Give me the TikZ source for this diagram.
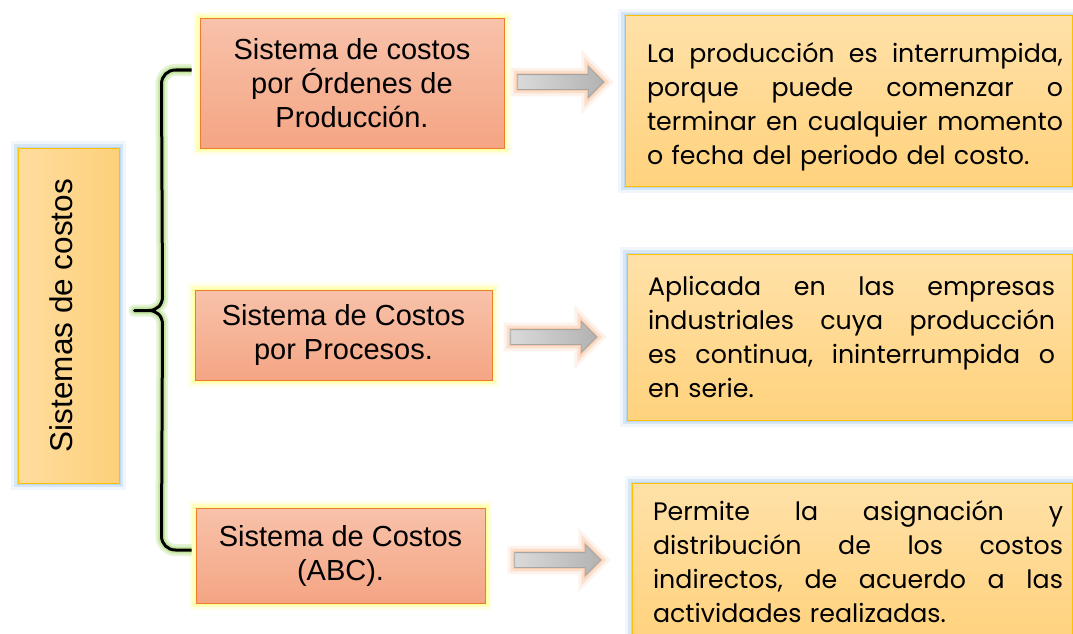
\documentclass[tikz,border=0pt]{standalone}
\usepackage{fontspec}
\setmainfont{Liberation Sans}
\newfontfamily\gothic{Poppins}
\usetikzlibrary{shapes.arrows,calc}
\definecolor{salmonT}{HTML}{F8C2AA}
\definecolor{salmonB}{HTML}{F4A584}
\definecolor{salmonLine}{HTML}{ED7D31}
\definecolor{goldT}{HTML}{FFE1A8}
\definecolor{goldB}{HTML}{FFD27D}
\definecolor{goldL}{HTML}{FFDDA0}
\definecolor{goldR}{HTML}{FDD07A}
\definecolor{goldLine}{HTML}{FFC000}
\definecolor{glowBlue}{HTML}{9DC3E6}
\definecolor{glowYellow}{HTML}{FFFF66}
\definecolor{glowGreen}{HTML}{92D050}
\definecolor{glowOrange}{HTML}{F4B183}
\definecolor{arrowL}{HTML}{DADADA}
\definecolor{arrowR}{HTML}{B2B2B2}
\definecolor{arrowLine}{HTML}{A5A5A5}
\newcommand\jline[3]{\hspace*{#1pt}\makebox[#2pt]{#3}}
\begin{document}
\begin{tikzpicture}[x=1pt,y=-1pt,
  glow/.style={
    preaction={draw=#1,draw opacity=0.15,line width=14pt,rounded corners=6pt},
    preaction={draw=#1,draw opacity=0.3,line width=8pt,rounded corners=4pt},
    preaction={draw=#1,draw opacity=0.45,line width=3pt}},
  sysbox/.style={draw=salmonLine,line width=1pt,top color=salmonT,bottom color=salmonB,
    glow=glowYellow,inner sep=0pt,align=center,font=\fontsize{29}{34}\selectfont},
  descbox/.style={draw=goldLine,line width=1pt,top color=goldT,bottom color=goldB,
    glow=glowBlue,inner sep=0pt,align=left,font=\gothic\fontsize{25.3}{34}\selectfont},
  rootbox/.style={draw=goldLine,line width=1pt,left color=goldL,right color=goldR,
    glow=glowBlue,inner sep=0pt,font=\fontsize{31.5}{34}\selectfont},
  blockarrow/.style={single arrow,draw=arrowLine,line width=0.8pt,left color=arrowL,right color=arrowR,
    glow=glowOrange,inner xsep=0pt,inner ysep=7pt,single arrow head extend=8pt,
    single arrow tip angle=90,minimum height=86pt},
  bracket/.style={draw=black,line width=3pt,line join=round,
    preaction={draw=glowGreen,draw opacity=0.25,line width=12pt,line join=round},
    preaction={draw=glowGreen,draw opacity=0.35,line width=7pt,line join=round}}
]
\useasboundingbox (0,0) rectangle (1073,634);
\fill[white] (0,0) rectangle (1073,634);

% root
\node[rootbox,minimum width=101pt,minimum height=335pt] (L) at (68.5,315.5)
  {\rotatebox{90}{Sistemas de costos}\hspace*{14pt}};

% systems
\node[sysbox,minimum width=304pt,minimum height=129pt] (b1) at (352,83.5)
  {Sistema de costos\\por Órdenes de\\Producción.};
\node[sysbox,minimum width=297pt,minimum height=90pt] (b2) at (343.5,335)
  {Sistema de Costos\\por Procesos.};
\node[sysbox,minimum width=289pt,minimum height=95pt] (b3) at (340.5,555.5)
  {Sistema de Costos\\(ABC).};

% arrows
\node[blockarrow] (a1) at (557,82) {};
\node[blockarrow] (a2) at (550,337) {};
\node[blockarrow] (a3) at (554,560) {};

% descriptions
\node[descbox,text width=447pt,minimum height=170pt] (r1) at (848.5,101)
  {\rule{0pt}{32pt}\jline{22}{416}{La\hfill producción\hfill es\hfill interrumpida,}\\
   \jline{22}{416}{porque\hfill puede\hfill comenzar\hfill o}\\
   \jline{22}{416}{terminar\hfill en\hfill cualquier\hfill momento}\\
   \hspace*{22pt}o fecha del periodo del costo.};
\node[descbox,text width=445pt,minimum height=166pt] (r2) at (849.5,337)
  {\jline{21}{407}{Aplicada\hfill en\hfill las\hfill empresas}\\
   \jline{21}{407}{industriales\hfill cuya\hfill producción}\\
   \jline{21}{407}{es\hfill continua,\hfill ininterrumpida\hfill o}\\
   \hspace*{21pt}en serie.};
\node[descbox,text width=440pt,minimum height=157pt] (r3) at (852,561.5)
  {\jline{21}{410}{Permite\hfill la\hfill asignación\hfill y}\\
   \jline{21}{410}{distribución\hfill de\hfill los\hfill costos}\\
   \jline{21}{410}{indirectos,\hfill de\hfill acuerdo\hfill a\hfill las}\\
   \hspace*{21pt}actividades realizadas.};

% bracket
\coordinate (bt) at ($(b1.west)+(-8,-13.5)$);
\coordinate (bm) at ($(L.east)+(15,-5)$);
\coordinate (bb) at ($(b3.west)+(-4,-5.5)$);
\draw[bracket] (bt) -- ++(-16,0) .. controls +(-8,0) and +(0,-8) .. ++(-14,14)
  -- ($(bm)+(28,-14)$) .. controls +(0,9) and +(8,0) .. ($(bm)+(14,0)$) -- (bm)
  -- ($(bm)+(14,0)$) .. controls +(8,0) and +(0,-9) .. ($(bm)+(28,14)$)
  -- ($(bb)+(-30,-14)$) .. controls +(0,8) and +(-8,0) .. ($(bb)+(-16,0)$) -- (bb);
\end{tikzpicture}
\end{document}
